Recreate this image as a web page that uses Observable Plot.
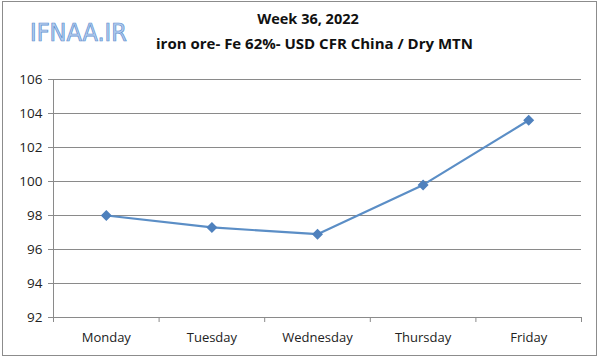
<!DOCTYPE html>
<html><head><meta charset="utf-8">
<script src="https://cdn.jsdelivr.net/npm/d3@7"></script>
<script src="https://cdn.jsdelivr.net/npm/@observablehq/plot@0.6"></script>
<style>
html,body{margin:0;padding:0;background:#fff;}
#wrap{position:relative;width:600px;height:359px;overflow:hidden;font-family:"Open Sans",sans-serif;}
#frame{position:absolute;left:2px;top:1px;width:595px;height:355px;border:1px solid #8c8c8c;box-sizing:border-box;}
#t1,#t2{position:absolute;left:0;text-align:center;font-weight:bold;color:#111;white-space:nowrap;}
#t1{top:9px;font-size:14.5px;width:616px;}
#t2{top:33px;font-size:15px;width:629px;}
#wm{position:absolute;left:30px;top:18px;font-size:25px;color:#b3cdee;-webkit-text-stroke:0.7px #5d8fd0;font-family:"DejaVu Sans Condensed","DejaVu Sans",sans-serif;font-stretch:condensed;}
#chart{position:absolute;left:0;top:0;}
</style></head>
<body><div id="wrap">
<div id="frame"></div>
<div id="wm">IFNAA.IR</div>
<div id="t1">Week 36, 2022</div>
<div id="t2">iron ore- Fe 62%- USD CFR China / Dry MTN</div>
<div id="chart"></div>
</div>
<script>
const days = ["Monday","Tuesday","Wednesday","Thursday","Friday"];
const prices = [98, 97.3, 96.9, 99.8, 103.6];
const yTicks = [92, 94, 96, 98, 100, 102, 104, 106];

const data = days.map((d, i) => ({day: d, pos: i + 0.5, price: prices[i]}));
const centers = days.map((d, i) => i + 0.5);
const bounds = d3.range(days.length + 1);

const chart = Plot.plot({
  width: 600, height: 359,
  marginTop: 79, marginBottom: 42, marginLeft: 53, marginRight: 19,
  style: {fontFamily: "'Open Sans', sans-serif", fontSize: "13px", color: "#222", background: "transparent", overflow: "visible"},
  x: {type: "linear", domain: [0, days.length]},
  y: {domain: [92, 106]},
  marks: [
    Plot.gridY(yTicks, {stroke: "#8a8a8a", strokeOpacity: 1, strokeWidth: 1}),
    Plot.ruleX([0], {stroke: "#8a8a8a"}),
    Plot.axisY({ticks: yTicks, tickSize: 5, tickPadding: 6, stroke: "#8a8a8a", tickFormat: d => d, fontSize: 13.5, color: "#222", label: null}),
    Plot.axisX({ticks: bounds, tickSize: 5, tickFormat: () => "", stroke: "#8a8a8a", label: null}),
    Plot.axisX({ticks: centers, tickSize: 0, tickPadding: 15, tickFormat: v => days[Math.round(v - 0.5)], fontSize: 13, color: "#222", label: null}),
    Plot.line(data, {x: "pos", y: "price", stroke: "#5b8ec6", strokeWidth: 2.2}),
    Plot.dot(data, {x: "pos", y: "price", symbol: "diamond2", r: 4, fill: "#4f81bd", stroke: "#4f81bd"})
  ]
});
document.getElementById("chart").appendChild(chart);
</script>
</body></html>
